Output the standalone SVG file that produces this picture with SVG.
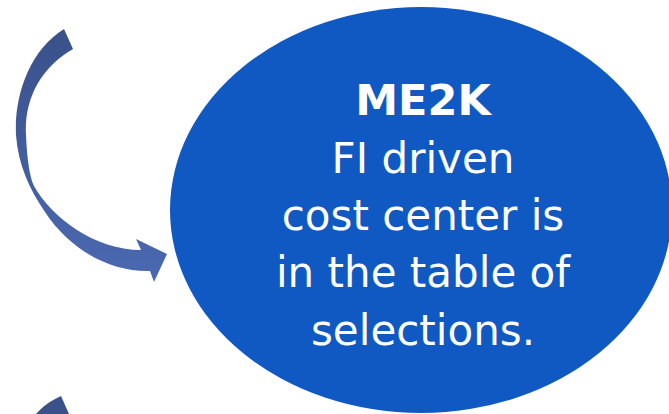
<svg xmlns="http://www.w3.org/2000/svg" width="669" height="414" viewBox="0 0 669 414">
  <defs>
    <linearGradient id="arrowGrad" gradientUnits="userSpaceOnUse" x1="0" y1="29" x2="0" y2="282">
      <stop offset="0" stop-color="#3A5189"/>
      <stop offset="1" stop-color="#4B69B2"/>
    </linearGradient>
    <style>
      .node-shape { fill: #1059C3; }
      .label { font-family: "DejaVu Sans", Verdana, sans-serif; fill: #ffffff; text-anchor: middle; font-size: 42px; }
      .title { font-weight: bold; font-size: 43px; }
      .arrow { fill: url(#arrowGrad); }
      .arrow2 { fill: #3A5189; }
    </style>
  </defs>
  <rect width="669" height="414" fill="#ffffff"/>
  <g id="connectors">
    <path class="arrow" d="M 64,29 L 73,49 C 40,68 24,100 26,135 C 27,160 30,178 34,186 C 52,218 95,250 141,250 L 136,239 L 167,254 L 154,282 L 150,271 C 110,272 70,250 45,212 C 30,190 18,165 16,135 C 14,95 30,50 64,29 Z"/>
    <path class="arrow2" d="M 61,396 L 69,414 L 36,414 C 42,407 50,401 61,396 Z"/>
  </g>
  <g id="node-me2k">
    <ellipse class="node-shape" cx="421" cy="210" rx="251" ry="203"/>
    <text class="label title" x="423" y="115">ME2K</text>
    <text class="label" x="423" y="173">FI driven</text>
    <text class="label" x="423" y="230">cost center is</text>
    <text class="label" x="423" y="287">in the table of</text>
    <text class="label" x="423" y="345">selections.</text>
  </g>
</svg>
